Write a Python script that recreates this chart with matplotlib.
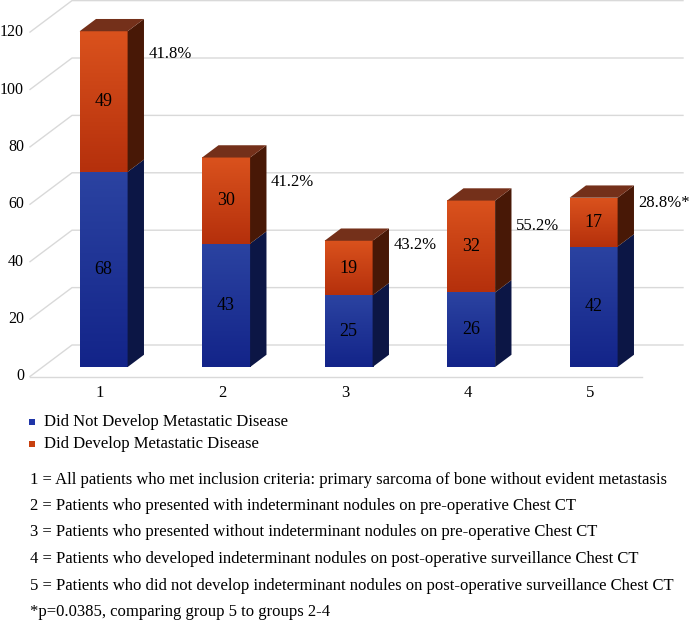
import numpy as np
import matplotlib
matplotlib.use("Agg")
import matplotlib.pyplot as plt
from matplotlib.colors import LinearSegmentedColormap
from matplotlib.patches import Polygon

plt.rcParams['font.family'] = ['Liberation Serif', 'DejaVu Serif']

# data
groups = ['1', '2', '3', '4', '5']
no_mets = [68, 43, 25, 26, 42]
mets = [49, 30, 19, 32, 17]
pct_labels = ['41.8%', '41.2%', '43.2%', '55.2%', '28.8%*']
pct_label_y = [109, 64.5, 42.5, 49, 57]   # where the % text sits (value units)
yticks = [0, 20, 40, 60, 80, 100, 120]

series_names = ['Did Not Develop Metastatic Disease', 'Did Develop Metastatic Disease']
notes = [
    '1 = All patients who met inclusion criteria: primary sarcoma of bone without evident metastasis',
    '2 = Patients who presented with indeterminant nodules on pre-operative Chest CT',
    '3 = Patients who presented without indeterminant nodules on pre-operative Chest CT',
    '4 = Patients who developed indeterminant nodules on post-operative surveillance Chest CT',
    '5 = Patients who did not develop indeterminant nodules on post-operative surveillance Chest CT',
    '*p=0.0385, comparing group 5 to groups 2-4',
]

# geometry (pixels of the 689x629 canvas)
W, H = 689, 629
PX_X = 122.5        # px per category
PX_Y = 2.87         # px per unit
X0_PX = 91          # front-plane centre of group 1
Y0_PX = 376.5       # front-plane value 0 (from top)
DEPTH_X, DEPTH_Y = 42, 31.5
BAR_F0, BAR_F1 = 0.30, 0.69
BAR_HALF = 24 / PX_X


def dx(f):
    return DEPTH_X * f / PX_X


def dy(f):
    return DEPTH_Y * f / PX_Y


def px_to_x(px):
    return 1 + (px - X0_PX) / PX_X


blue_front = LinearSegmentedColormap.from_list('bf', ['#132489', '#2b43a1'])
blue_side = '#0c1645'
orange_front = LinearSegmentedColormap.from_list('of', ['#b5300c', '#da521d'])
orange_side = '#481806'
orange_top = '#74301a'

fig = plt.figure(figsize=(W / 100, H / 100), dpi=100)
ax = fig.add_axes([0, 0, 1, 1])
ax.axis('off')
xlim = (px_to_x(0), px_to_x(W))
ylim = (-(H - Y0_PX) / PX_Y, Y0_PX / PX_Y)

# gridlines with perspective
grid_c = '#d9d9d9'
xl = px_to_x(30)
xr = px_to_x(683)
for v in yticks:
    ax.plot([xl, xl + dx(1), xr], [v, v + dy(1), v + dy(1)], color=grid_c, lw=1, zorder=1)
    ax.text(px_to_x(24), v, str(v), ha='right', va='center', fontsize=11.5)
ax.plot([xl, px_to_x(642)], [0, 0], color=grid_c, lw=1, zorder=1)

grad = np.linspace(0, 1, 64).reshape(-1, 1)
for i, (a, b) in enumerate(zip(no_mets, mets)):
    cx = i + 1 + dx(BAR_F0)
    x0, x1 = cx - BAR_HALF, cx + BAR_HALF
    base = dy(BAR_F0)
    ddx, ddy = dx(BAR_F1 - BAR_F0), dy(BAR_F1 - BAR_F0)
    segs = [(base, base + a, blue_front, blue_side, a),
            (base + a, base + a + b, orange_front, orange_side, b)]
    for y0, y1, cmap, side, val in segs:
        ax.imshow(grad, cmap=cmap, extent=[x0, x1, y0, y1], origin='lower',
                  aspect='auto', interpolation='bilinear', zorder=3)
        ax.add_patch(Polygon([(x1, y0), (x1 + ddx, y0 + ddy), (x1 + ddx, y1 + ddy), (x1, y1)],
                             closed=True, facecolor=side, edgecolor='none', zorder=3))
        ax.text(cx, (y0 + y1) / 2, str(val), ha='center', va='center', fontsize=13, zorder=4)
    top = base + a + b
    ax.add_patch(Polygon([(x0, top), (x1, top), (x1 + ddx, top + ddy), (x0 + ddx, top + ddy)],
                         closed=True, facecolor=orange_top, edgecolor='none', zorder=3))
    ax.text(x1 + 21 / PX_X, pct_label_y[i] + base, pct_labels[i], ha='left', va='center',
            fontsize=12, zorder=4)
    ax.text(i + 1 + 9 / PX_X, -(393 - Y0_PX) / PX_Y, groups[i], ha='center', va='center',
            fontsize=12)

ax.set_xlim(xlim)
ax.set_ylim(ylim)

# legend
for name, col, ypx in zip(series_names, ['#1f35a8', '#c8400f'], [422, 444]):
    fig.patches.append(plt.Rectangle((29 / W, 1 - (ypx + 3) / H), 6 / W, 6 / H,
                                     transform=fig.transFigure, facecolor=col, edgecolor='none'))
    fig.text(44 / W, 1 - ypx / H, name, ha='left', va='center', fontsize=12)

for note, ypx in zip(notes, [480, 506, 532, 559, 586, 612]):
    fig.text(30 / W, 1 - ypx / H, note, ha='left', va='center', fontsize=12)

fig.savefig('out.png', dpi=100)
